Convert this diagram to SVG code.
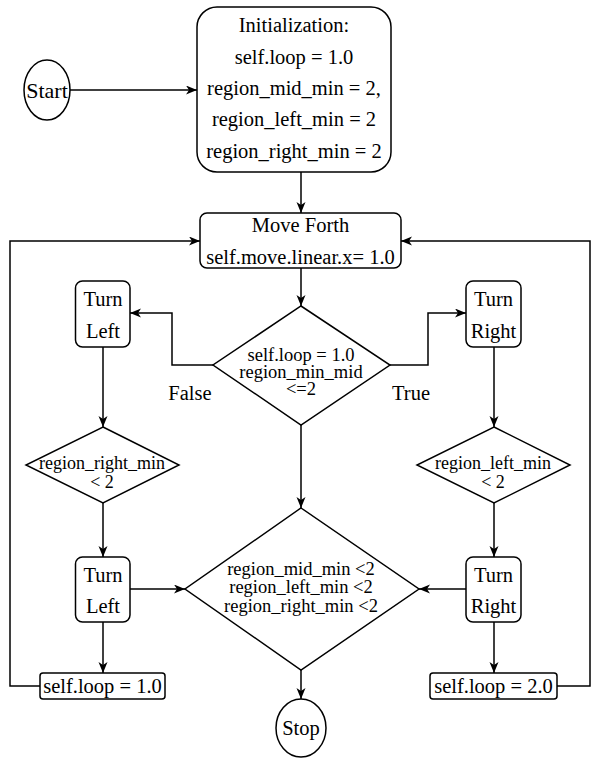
<svg xmlns="http://www.w3.org/2000/svg" width="592" height="758" viewBox="0 0 592 758">
<defs>
<marker id="arr" markerUnits="userSpaceOnUse" markerWidth="12" markerHeight="10" refX="11" refY="4.5" orient="auto">
<path d="M0,0 L11,4.5 L0,9 L3,4.5 Z" fill="#000"/>
</marker>
<style>
.s{fill:#fff;stroke:#000;stroke-width:1.5}
.c{fill:none;stroke:#000;stroke-width:1.5;marker-end:url(#arr)}
text{font-family:"Liberation Serif","Times New Roman",serif;fill:#000;text-anchor:middle}
.t20{font-size:20.5px}
.t19{font-size:18.5px}
.t18{font-size:18px}
.t22{font-size:22px}
</style>
</defs>
<rect width="592" height="758" fill="#fff"/>
<g id="connectors">
<path class="c" d="M70,90 H197"/>
<path class="c" d="M301,172 V213"/>
<path class="c" d="M301,268 V306"/>
<path class="c" d="M213,365 H172 V313 H130"/>
<path class="c" d="M390,365 H428 V313 H466"/>
<path class="c" d="M301,425 V508"/>
<path class="c" d="M103,347 V427"/>
<path class="c" d="M494,347 V427"/>
<path class="c" d="M103,503 V557"/>
<path class="c" d="M494,503 V557"/>
<path class="c" d="M130,589 H185"/>
<path class="c" d="M466,589 H419"/>
<path class="c" d="M103,622 V673"/>
<path class="c" d="M494,622 V673"/>
<path class="c" d="M40,686 H10 V241 H200"/>
<path class="c" d="M557,686 H590 V241 H401"/>
<path class="c" d="M301,670 V699"/>
</g>
<g id="start">
<ellipse class="s" cx="47" cy="90" rx="23" ry="30"/>
<text class="t22" x="47" y="97.5">Start</text>
</g>
<g id="init">
<rect class="s" x="197" y="7" width="194" height="165" rx="20"/>
<text class="t20" x="294" y="32">Initialization:</text>
<text class="t20" x="294" y="64">self.loop = 1.0</text>
<text class="t20" x="294" y="95">region_mid_min = 2,</text>
<text class="t20" x="294" y="126">region_left_min = 2</text>
<text class="t20" x="294" y="158">region_right_min = 2</text>
</g>
<g id="moveforth">
<rect class="s" x="200" y="213" width="201" height="55" rx="7"/>
<text class="t20" x="300.5" y="232">Move Forth</text>
<text class="t20" x="300.5" y="264">self.move.linear.x= 1.0</text>
</g>
<g id="decision1">
<polygon class="s" points="301,306 390,365 301,425 213,365"/>
<text class="t19" x="301" y="361">self.loop = 1.0</text>
<text class="t19" x="301" y="378">region_min_mid</text>
<text class="t19" x="301" y="395">&lt;=2</text>
</g>
<g id="labels">
<text class="t20" x="190" y="400">False</text>
<text class="t20" x="411" y="400">True</text>
</g>
<g id="turnleft1">
<rect class="s" x="75.5" y="281" width="54.5" height="66" rx="7"/>
<text class="t20" x="103" y="306">Turn</text>
<text class="t20" x="103" y="338">Left</text>
</g>
<g id="turnright1">
<rect class="s" x="466" y="281" width="55" height="66" rx="7"/>
<text class="t20" x="493.5" y="306">Turn</text>
<text class="t20" x="493.5" y="338">Right</text>
</g>
<g id="decisionleft">
<polygon class="s" points="103,427 179,465 103,503 26,465"/>
<text class="t18" x="102" y="469">region_right_min</text>
<text class="t18" x="102" y="488">&lt; 2</text>
</g>
<g id="decisionright">
<polygon class="s" points="494,427 570,465 494,503 417,465"/>
<text class="t18" x="493" y="469">region_left_min</text>
<text class="t18" x="493" y="488">&lt; 2</text>
</g>
<g id="turnleft2">
<rect class="s" x="75.5" y="557" width="54.5" height="65" rx="7"/>
<text class="t20" x="103" y="582">Turn</text>
<text class="t20" x="103" y="613">Left</text>
</g>
<g id="turnright2">
<rect class="s" x="466" y="557" width="55" height="65" rx="7"/>
<text class="t20" x="493.5" y="582">Turn</text>
<text class="t20" x="493.5" y="613">Right</text>
</g>
<g id="decision2">
<polygon class="s" points="301,508 419,589 301,670 185,589"/>
<text class="t19" x="301" y="575">region_mid_min &lt;2</text>
<text class="t19" x="301" y="593">region_left_min &lt;2</text>
<text class="t19" x="301" y="612">region_right_min &lt;2</text>
</g>
<g id="loop1">
<rect class="s" x="40" y="673" width="125" height="26" rx="3"/>
<text class="t20" x="102.5" y="693">self.loop = 1.0</text>
</g>
<g id="loop2">
<rect class="s" x="430" y="673" width="127" height="26" rx="3"/>
<text class="t20" x="493.5" y="693">self.loop = 2.0</text>
</g>
<g id="stop">
<ellipse class="s" cx="301" cy="728" rx="25" ry="29"/>
<text class="t20" x="301" y="735">Stop</text>
</g>
</svg>
